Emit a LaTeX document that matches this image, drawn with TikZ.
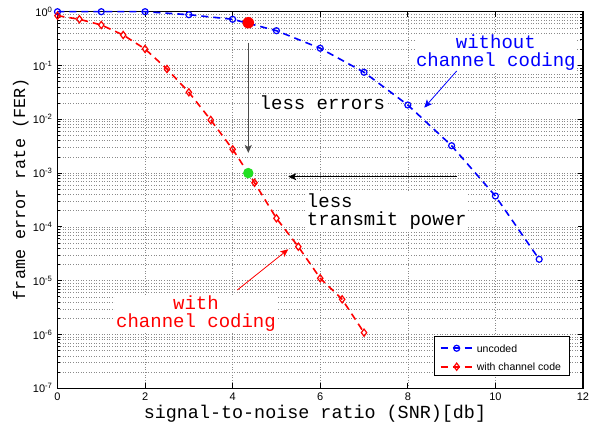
\documentclass[tikz,border=0pt]{standalone}
\usepackage{fontspec}
\setmainfont{Liberation Sans}
\setmonofont{Liberation Mono}
\usetikzlibrary{arrows.meta, positioning, plotmarks}
\definecolor{CurveBlue}{HTML}{0000FF}
\definecolor{CurveRed}{HTML}{FF0000}
\definecolor{DotGreen}{HTML}{22E022}
\definecolor{GridGray}{HTML}{8A8A8A}

\tikzset{
  gridline/.style={GridGray, dotted, line width=0.6pt},
  tickline/.style={black, line width=0.8pt},
  ticktext/.style={font=\fontsize{11}{11}\selectfont, inner sep=0pt},
  axistext/.style={font=\ttfamily\fontsize{18.4}{18.4}\selectfont, inner sep=0pt, text height=11pt, text depth=4pt},
  note/.style={font=\ttfamily\fontsize{19}{17.6}\selectfont, fill=white, inner sep=1pt, align=center},
  uncoded/.style={CurveBlue, line width=1.6pt, dash pattern=on 7pt off 5pt},
  coded/.style={CurveRed, line width=1.6pt, dash pattern=on 7pt off 5pt},
  pointer/.style={-{Stealth[length=8pt, width=7pt, inset=2pt]}},
  legendtext/.style={font=\fontsize{10.5}{10.5}\selectfont, anchor=west, inner sep=0pt}
}

\begin{document}
\begin{tikzpicture}[x=43.79pt, y=53.8pt]
  \useasboundingbox (-1.313,-0.7007) rectangle (12.252,7.2175);
  % Grid
  \foreach \k in {2,4,...,10} \draw[gridline] (\k,0) -- (\k,7);
  \foreach \n in {0,...,6} \foreach \m in {1,...,9} \draw[gridline] (0,{\n+log10(\m)}) -- (12,{\n+log10(\m)});
  % Ticks and tick labels
  \foreach \k in {0,2,...,12} {
    \draw[tickline] (\k,0) -- ++(0,5pt);
    \draw[tickline] (\k,7) -- ++(0,-5pt);
    \node[ticktext] (xt\k) at (\k,-0.155) {\k};
  }
  \foreach \n in {0,...,7} {
    \pgfmathtruncatemacro{\ex}{\n-7}
    \draw[tickline] (0,\n) -- ++(5pt,0);
    \draw[tickline] (12,\n) -- ++(-5pt,0);
    \node[ticktext, anchor=east] (yt\n) at (-0.11,\n) {10\textsuperscript{\ex}};
  }
  \foreach \n in {0,...,6} \foreach \m in {2,...,9} {
    \draw[tickline] (0,{\n+log10(\m)}) -- ++(3pt,0);
    \draw[tickline] (12,{\n+log10(\m)}) -- ++(-3pt,0);
  }
  % Axes box
  \draw[line width=1.2pt] (0,0) rectangle (12,7);
  \node[axistext, anchor=base] (xlabel) at (5.88,-0.565) {signal-to-noise ratio (SNR)[db]};
  \node[axistext, anchor=base, rotate=90, font=\ttfamily\fontsize{16.8}{16.8}\selectfont] (ylabel) at (-0.742,3.70) {frame error rate (FER)};
  % Curves
  \draw[uncoded] plot[mark=o, mark size=3pt, mark options={solid, line width=1.2pt}] coordinates {
    (0,7) (1,7) (2,7) (3,6.944) (4,6.859) (5,6.647) (6,6.32) (7,5.874) (8,5.266) (9,4.509) (10,3.574) (11,2.398)};
  \draw[coded] plot[mark=diamond, mark size=3.6pt, mark options={solid, line width=1.2pt}] coordinates {
    (0,6.926) (0.5,6.859) (1,6.753) (1.5,6.567) (2,6.307) (2.5,5.935) (3,5.502) (3.5,4.987)
    (4,4.442) (4.5,3.82) (5,3.16) (5.5,2.632) (6,2.045) (6.5,1.654) (7,1.034)};
  % Operating points
  \node[circle, fill=CurveRed, minimum width=11.5pt, minimum height=10pt, inner sep=0pt] (before) at (4.357,6.795) {};
  \node[circle, fill=DotGreen, minimum size=10.5pt, inner sep=0pt] (after) at (4.357,4.0) {};
  % Annotations
  \coordinate (errstart) at (4.357,6.424);
  \coordinate (errend) at (4.357,4.374);
  \draw[pointer, black!70, line width=1.2pt] (errstart) -- (errend);
  \node[note, anchor=base] (lesserr) at (6.05,5.173) {less errors};
  \coordinate (powstart) at (9.116,3.933);
  \coordinate (powend) at (5.27,3.933);
  \draw[pointer, line width=0.9pt] (powstart) -- (powend);
  \node[note, anchor=west, align=left] (lesspow) at (5.67,3.29) {less\\transmit power};
  \node[note, text=CurveBlue] (uncodednote) at (10.01,6.238) {without\\channel coding};
  \coordinate (bluestart) at (9.116,5.898);
  \coordinate (blueend) at (8.376,5.216);
  \draw[pointer, CurveBlue, line width=0.8pt] (bluestart) -- (blueend);
  \node[note, text=CurveRed] (codednote) at (3.163,1.394) {with\\channel coding};
  \coordinate (redstart) at (4.106,1.827);
  \coordinate (redend) at (5.27,2.584);
  \draw[pointer, CurveRed, line width=0.8pt] (redstart) -- (redend);
  % Legend
  \node[draw=black, line width=1pt, fill=white, minimum width=134.3pt, minimum height=39.3pt, inner sep=0pt] (legbox) at (10.154,0.594) {};
  \draw[uncoded] (8.751,0.744) -- (9.482,0.744);
  \draw[CurveBlue] plot[mark=o, mark size=3pt, mark options={solid, line width=1.2pt}] coordinates {(9.116,0.744)};
  \node[legendtext] (legunc) at (9.573,0.744) {uncoded};
  \draw[coded] (8.751,0.401) -- (9.482,0.401);
  \draw[CurveRed] plot[mark=diamond, mark size=3.6pt, mark options={solid, line width=1.2pt}] coordinates {(9.116,0.401)};
  \node[legendtext] (legcod) at (9.573,0.401) {with channel code};
\end{tikzpicture}
\end{document}
